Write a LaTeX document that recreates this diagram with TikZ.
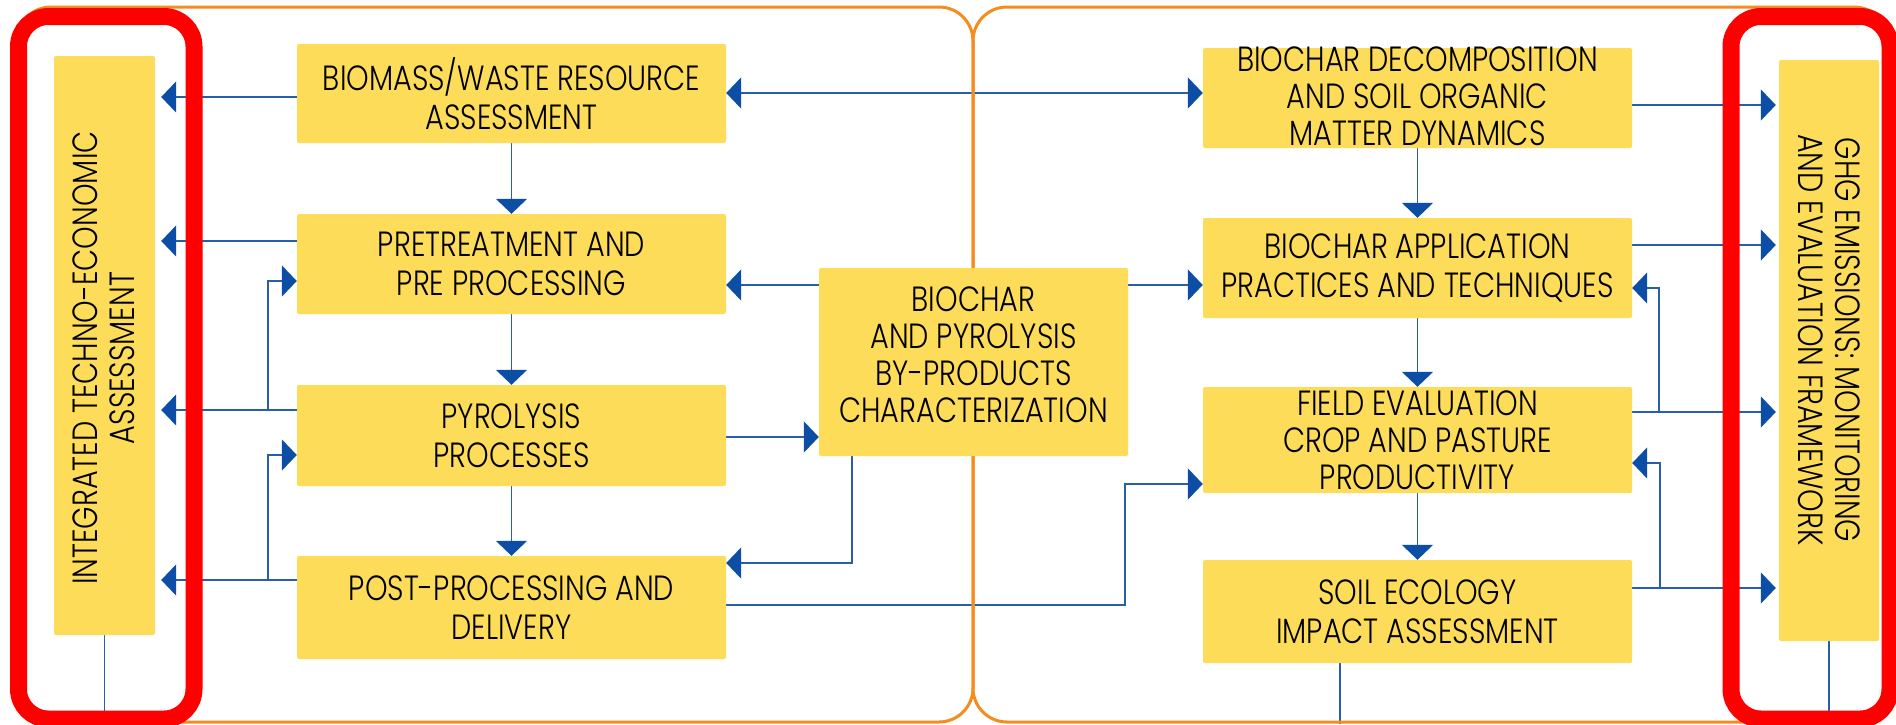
\documentclass[tikz,border=0pt]{standalone}
\usepackage{fontspec}
\setmainfont{Poppins Light}[FakeStretch=0.82]
\usetikzlibrary{arrows.meta}
\definecolor{boxyellow}{RGB}{253,220,90}
\definecolor{lineblue}{RGB}{40,95,170}
\definecolor{tipblue}{RGB}{12,78,165}
\definecolor{panelorange}{RGB}{247,140,30}
\definecolor{hired}{RGB}{255,0,0}
\pgfdeclarelayer{bg}
\pgfdeclarelayer{lines}
\pgfdeclarelayer{frame}
\pgfdeclarelayer{top}
\pgfsetlayers{bg,lines,frame,main,top}
\begin{document}
\begin{tikzpicture}[x=1pt,y=-1pt,
  box/.style={fill=boxyellow, draw=none, rounded corners=2pt, inner sep=0pt, align=center,
    font=\fontsize{35}{39}\selectfont, text=black},
  vtext/.style={inner sep=0pt, align=center, font=\fontsize{35}{37}\selectfont, text=black},
  conn/.style={draw=lineblue, line width=1.8pt},
  arr/.style={conn, -{Triangle[length=15pt,width=31pt,fill=tipblue,color=tipblue]}},
  arrtwo/.style={conn, {Triangle[length=15pt,width=31pt,fill=tipblue,color=tipblue]}-{Triangle[length=15pt,width=31pt,fill=tipblue,color=tipblue]}},
  panel/.style={draw=panelorange, line width=3pt, rounded corners=34pt},
  redframe/.style={draw=hired, line width=17pt, rounded corners=30pt}]
\useasboundingbox (0,0) rectangle (1896,724);
\begin{pgfonlayer}{bg}
\fill[white] (0,0) rectangle (1896,724);
\end{pgfonlayer}

% ---------- boxes ----------
\node[box, minimum width=101pt, minimum height=579pt] (ite) at (104.5,345.5) {};
\node[vtext, rotate=90] (itet) at (104,358) {INTEGRATED TECHNO-ECONOMIC\\ASSESSMENT};

\node[box, minimum width=429pt, minimum height=99pt] (bio) at (511.5,93.5) {BIOMASS/WASTE RESOURCE\\ASSESSMENT};
\node[box, minimum width=429pt, minimum height=100pt] (pre) at (511.5,264) {PRETREATMENT AND\\PRE PROCESSING};
\node[box, minimum width=429pt, minimum height=101pt] (pyr) at (511.5,435.5) {PYROLYSIS\\PROCESSES};
\node[box, minimum width=429pt, minimum height=103pt] (post) at (511.5,607.5) {POST-PROCESSING AND\\DELIVERY};

\node[box, minimum width=309pt, minimum height=188pt] (mid) at (973.5,362) {};
\node[vtext] (midt) at (973.5,355) {BIOCHAR\\AND PYROLYSIS\\BY-PRODUCTS\\CHARACTERIZATION};

\node[box, minimum width=429pt, minimum height=100pt] (dec) at (1417.5,98) {};
\node[vtext] (dect) at (1417.5,96) {BIOCHAR DECOMPOSITION\\AND SOIL ORGANIC\\MATTER DYNAMICS};
\node[box, minimum width=429pt, minimum height=100pt] (app) at (1417.5,268) {BIOCHAR APPLICATION\\PRACTICES AND TECHNIQUES};
\node[box, minimum width=429pt, minimum height=106pt] (fld) at (1417.5,440) {};
\node[vtext] (fldt) at (1417.5,440) {FIELD EVALUATION\\CROP AND PASTURE\\PRODUCTIVITY};
\node[box, minimum width=429pt, minimum height=103pt] (soil) at (1417.5,611.5) {SOIL ECOLOGY\\IMPACT ASSESSMENT};

\node[box, minimum width=100pt, minimum height=581pt] (ghg) at (1829,350.5) {};
\node[vtext, rotate=-90] (ghgt) at (1829,340) {GHG EMISSIONS: MONITORING\\AND EVALUATION FRAMEWORK};

\coordinate (jl1) at (268,410);
\coordinate (jl2) at (268,580);
\coordinate (jm) at (1125,605);
\coordinate (jr1) at (1659,412);
\coordinate (jr2) at (1660,588);
\coordinate (bot) at (0,724);

% ---------- connectors ----------
\begin{pgfonlayer}{lines}
\draw[arr, shorten >=6pt] (bio.west |- 0,97) -- (ite.east |- 0,97);
\draw[arr, shorten >=6pt] (pre.west |- 0,241) -- (ite.east |- 0,241);
\draw[arr, shorten >=6pt] (pyr.west |- 0,410) -- (ite.east |- 0,410);
\draw[arr, shorten >=6pt] (post.west |- 0,580) -- (ite.east |- 0,580);
\draw[arr] (jl1) |- (pre.west |- 0,281);
\draw[arr] (jl2) |- (pyr.west |- 0,455);

\draw[arr] (bio.south) -- (pre.north);
\draw[arr] (pre.south) -- (pyr.north);
\draw[arr] (pyr.south) -- (post.north);

\draw[arrtwo] (bio.east |- 0,93) -- (dec.west |- 0,93);
\draw[arr] (mid.west |- 0,285) -- (pre.east |- 0,285);
\draw[arr] (pyr.east |- 0,437) -- (mid.west |- 0,437);
\draw[arr] (mid.south -| 852,0) -- (852,563) -- (post.east |- 0,563);
\draw[arr] (post.east |- jm) -- (jm) |- (fld.west |- 0,484);
\draw[arr] (mid.east |- 0,285) -- (app.west |- 0,285);

\draw[arr] (dec.south) -- (app.north);
\draw[arr] (app.south) -- (fld.north);
\draw[arr] (fld.south) -- (soil.north);

\draw[arr, shorten >=3pt] (dec.east |- 0,105) -- (ghg.west |- 0,105);
\draw[arr, shorten >=3pt] (app.east |- 0,245) -- (ghg.west |- 0,245);
\draw[arr, shorten >=3pt] (fld.east |- jr1) -- (ghg.west |- jr1);
\draw[arr, shorten >=3pt] (soil.east |- jr2) -- (ghg.west |- jr2);
\draw[arr] (jr1) |- (app.east |- 0,288);
\draw[arr] (jr2) |- (fld.east |- 0,463);

\draw[conn] (ite.south) -- (ite.south |- bot);
\draw[conn] (soil.south -| 1340,0) -- (1340,724);
\draw[conn] (ghg.south) -- (ghg.south |- bot);
\end{pgfonlayer}

% ---------- orange panels ----------
\begin{pgfonlayer}{frame}
\draw[panel] (17,7) rectangle (973,722);
\draw[panel] (973,7) rectangle (1888,722);
\end{pgfonlayer}

% ---------- red frames ----------
\begin{pgfonlayer}{top}
\draw[redframe] (18.5,16.5) rectangle (194,719);
\draw[redframe] (1731,16.5) rectangle (1890,719);
\end{pgfonlayer}
\end{tikzpicture}
\end{document}
